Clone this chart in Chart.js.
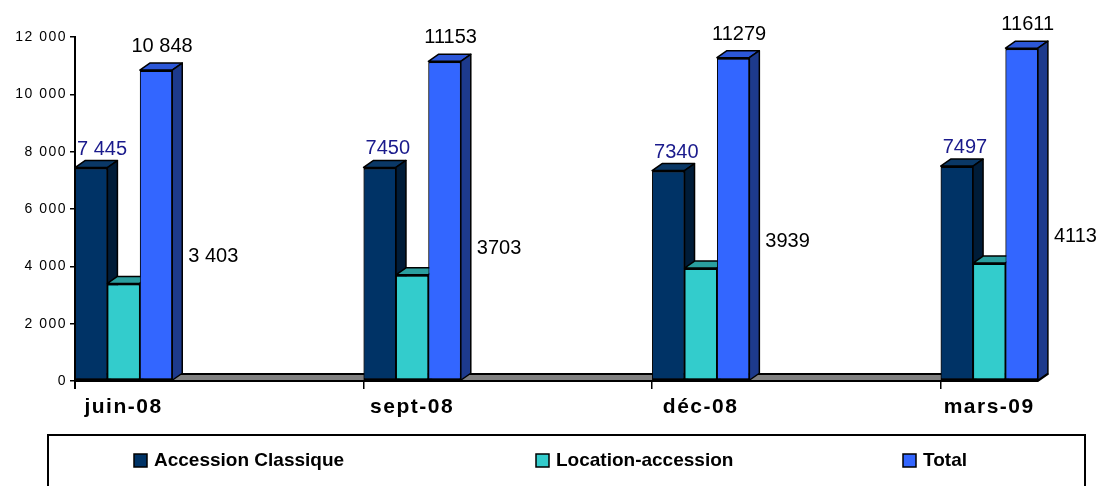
<!DOCTYPE html>
<html>
<head>
<meta charset="utf-8">
<script src="https://cdn.jsdelivr.net/npm/chart.js@4.4.1/dist/chart.umd.min.js"></script>
<style>
  html, body { margin: 0; padding: 0; background: #fff; overflow: hidden; }
  canvas { display: block; }
</style>
</head>
<body>
<canvas id="chart" width="1101" height="486"></canvas>
<script>
// Périodes et effectifs
const categories = ['juin-08', 'sept-08', 'déc-08', 'mars-09'];
const accessionClassique = [7445, 7450, 7340, 7497];
const locationAccession = [3403, 3703, 3939, 4113];
const total = [10848, 11153, 11279, 11611];
const seriesNames = ['Accession Classique', 'Location-accession', 'Total'];
const yTickValues = [0, 2000, 4000, 6000, 8000, 10000, 12000];
// séparateur de milliers utilisé par les étiquettes de chaque période
const labelSeparators = [' ', '', '', ''];

const series = [accessionClassique, locationAccession, total];

const FONT = "'Liberation Sans', Arial, Helvetica, sans-serif";
const DX = 10, DY = 7;          // profondeur de l'effet 3D
const GROUP = 0.337;            // part d'une période occupée par ses trois colonnes
const HALF = GROUP / 2;

const styles = [
  { front: '#003366', top: '#0a3866', side: '#001c38', label: '#1a1a8c' },
  { front: '#33cccc', top: '#2a9e9e', side: '#1f7f7f', label: '#000000' },
  { front: '#3366ff', top: '#2c57d8', side: '#1d3a8c', label: '#000000' }
];

function fmt(v, sep) {
  const s = String(v);
  return sep ? s.replace(/\B(?=(\d{3})+(?!\d))/g, sep) : s;
}

function poly(ctx, pts, fill) {
  ctx.beginPath();
  ctx.moveTo(pts[0][0], pts[0][1]);
  for (let i = 1; i < pts.length; i++) ctx.lineTo(pts[i][0], pts[i][1]);
  ctx.closePath();
  ctx.fillStyle = fill;
  ctx.fill();
  ctx.stroke();
}

// espacement des lettres des graduations
const spacingPlugin = {
  id: 'spacing',
  beforeDraw(chart) { chart.ctx.letterSpacing = '1.5px'; },
  beforeDatasetsDraw(chart) { chart.ctx.letterSpacing = '0px'; }
};

// plancher gris sous les colonnes
const floorPlugin = {
  id: 'floor',
  beforeDatasetsDraw(chart) {
    const { ctx, scales: { x, y } } = chart;
    const left = x.getPixelForValue(-HALF);
    const right = x.getPixelForValue(categories.length - 1 + HALF);
    const base = y.getPixelForValue(0);
    ctx.save();
    ctx.strokeStyle = '#000';
    // prolongement de l'axe vertical sous le plancher
    ctx.lineWidth = 2;
    ctx.beginPath();
    ctx.moveTo(left, base);
    ctx.lineTo(left, base + 8);
    ctx.stroke();
    ctx.lineJoin = 'round';
    poly(ctx, [[left, base], [right, base], [right + DX, base - DY], [left + DX, base - DY]], '#808080');
    ctx.restore();
  }
};

// faces supérieures et latérales, dessinées colonne après colonne
const prismPlugin = {
  id: 'prism',
  afterDatasetsDraw(chart) {
    const ctx = chart.ctx;
    ctx.save();
    chart.data.datasets.forEach((ds, k) => {
      const meta = chart.getDatasetMeta(k);
      meta.data.forEach(el => {
        el.draw(ctx);
        const { x, y, base, width } = el.getProps(['x', 'y', 'base', 'width'], true);
        const l = x - width / 2, r = x + width / 2;
        ctx.lineWidth = 1.5;
        ctx.strokeStyle = '#000';
        ctx.lineJoin = 'round';
        poly(ctx, [[l, y], [r, y], [r + DX, y - DY], [l + DX, y - DY]], styles[k].top);
        poly(ctx, [[r, y], [r + DX, y - DY], [r + DX, base - DY], [r, base]], styles[k].side);
      });
    });
    ctx.restore();
  }
};

// étiquettes de valeurs
const labelPlugin = {
  id: 'valueLabels',
  afterDatasetsDraw(chart) {
    const ctx = chart.ctx;
    const mA = chart.getDatasetMeta(0), mL = chart.getDatasetMeta(1), mT = chart.getDatasetMeta(2);
    ctx.save();
    ctx.font = '20px ' + FONT;
    ctx.textBaseline = 'alphabetic';
    categories.forEach((c, i) => {
      const a = mA.data[i], l = mL.data[i], t = mT.data[i];
      const sep = labelSeparators[i];
      ctx.fillStyle = styles[0].label;
      ctx.textAlign = 'left';
      ctx.fillText(fmt(accessionClassique[i], sep), a.x - a.width / 2 + 2, a.y - 13);
      ctx.fillStyle = styles[2].label;
      ctx.textAlign = 'center';
      ctx.fillText(fmt(total[i], sep), t.x + 6, t.y - 18);
      ctx.fillStyle = styles[1].label;
      ctx.textAlign = 'left';
      ctx.fillText(fmt(locationAccession[i], sep), t.x + t.width / 2 + DX + 6, l.y - 21);
    });
    ctx.restore();
  }
};

// légende encadrée sous le graphique
const legendPlugin = {
  id: 'boxLegend',
  afterDraw(chart) {
    const ctx = chart.ctx;
    const itemX = [134, 536, 903];
    ctx.save();
    ctx.lineWidth = 2;
    ctx.strokeStyle = '#000';
    ctx.strokeRect(48, 435, 1037, 70);
    ctx.font = 'bold 19px ' + FONT;
    ctx.textBaseline = 'alphabetic';
    ctx.textAlign = 'left';
    chart.data.datasets.forEach((ds, k) => {
      ctx.fillStyle = ds.backgroundColor;
      ctx.lineWidth = 1.5;
      ctx.fillRect(itemX[k], 454, 13, 13);
      ctx.strokeRect(itemX[k], 454, 13, 13);
      ctx.fillStyle = '#000';
      ctx.fillText(ds.label, itemX[k] + 13 + 7, 466);
    });
    ctx.restore();
  }
};

new Chart(document.getElementById('chart'), {
  type: 'bar',
  data: {
    datasets: seriesNames.map((name, k) => ({
      label: name,
      data: series[k].map((v, i) => ({ x: i, y: v })),
      backgroundColor: styles[k].front,
      borderColor: '#000',
      borderWidth: { top: 2, bottom: 2, left: 1, right: 1 },
      borderSkipped: false,
      categoryPercentage: GROUP,
      barPercentage: 1
    }))
  },
  options: {
    responsive: false,
    animation: false,
    devicePixelRatio: 1,
    layout: { padding: { top: 37, right: 53, bottom: 0, left: 0 } },
    plugins: { legend: { display: false }, tooltip: { enabled: false } },
    scales: {
      x: {
        type: 'linear',
        offset: false,
        min: -HALF,
        max: categories.length - 1 + HALF + 0.035,
        afterBuildTicks(s) { s.ticks = categories.map((c, i) => ({ value: i - HALF })); },
        afterFit(s) { s.height = 105; },
        grid: { display: true, offset: false, drawOnChartArea: false, drawTicks: true, tickLength: 8, color: '#000', lineWidth: 1.5 },
        border: { display: false },
        ticks: {
          callback: (v, i) => categories[i],
          labelOffset: 48.5,
          autoSkip: false,
          maxRotation: 0,
          padding: 6,
          color: '#000',
          font: { family: FONT, size: 21, weight: 'bold' }
        }
      },
      y: {
        min: 0,
        max: 12000,
        afterBuildTicks(s) { s.ticks = yTickValues.map(v => ({ value: v })); },
        afterFit(s) { s.width = 75; },
        grid: { display: true, drawOnChartArea: false, tickLength: 5, color: '#000', lineWidth: 1.5 },
        border: { display: true, color: '#000', width: 2 },
        ticks: {
          callback: v => fmt(v, ' '),
          padding: 3,
          color: '#000',
          font: { family: FONT, size: 14 }
        }
      }
    }
  },
  plugins: [spacingPlugin, floorPlugin, prismPlugin, labelPlugin, legendPlugin]
});
</script>
</body>
</html>
